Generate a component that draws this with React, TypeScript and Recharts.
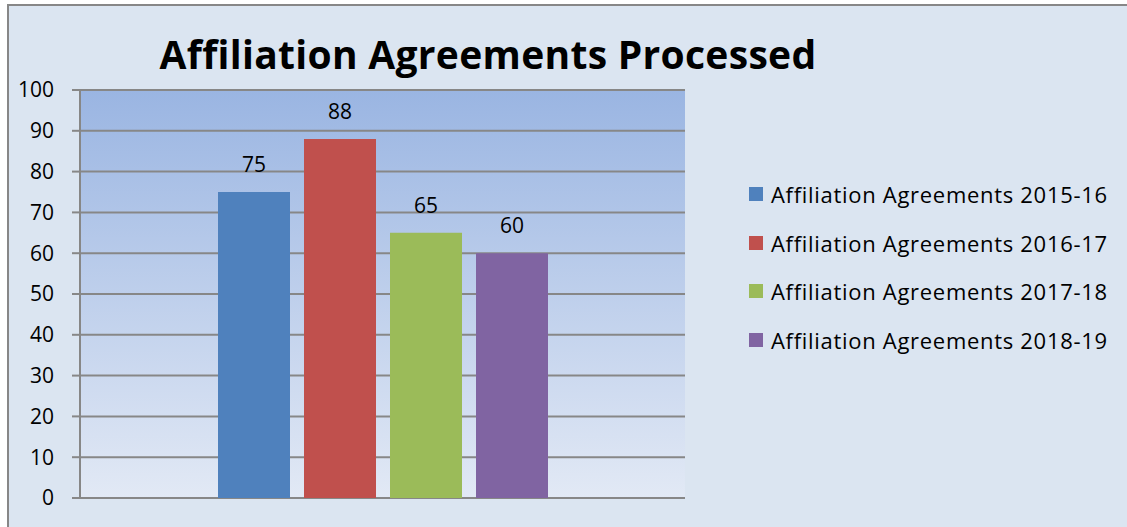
import { Bar, BarChart, CartesianGrid, LabelList, XAxis, YAxis } from 'recharts';

const CATEGORIES = [''];
const SERIES_NAMES = [
  'Affiliation Agreements 2015-16',
  'Affiliation Agreements 2016-17',
  'Affiliation Agreements 2017-18',
  'Affiliation Agreements 2018-19',
];
const SERIES_VALUES = [[75], [88], [65], [60]];
const SERIES_COLORS = ['#4f81bd', '#c0504d', '#9bbb59', '#8064a2'];
const Y_TICKS = [0, 10, 20, 30, 40, 50, 60, 70, 80, 90, 100];

const FONT = '"Open Sans", "Noto Sans", sans-serif';

const data = CATEGORIES.map((name, i) => {
  const row: Record<string, string | number> = { name };
  SERIES_NAMES.forEach((s, j) => {
    row['s' + j] = SERIES_VALUES[j][i];
  });
  return row;
});

export default function App() {
  return (
    <div style={{ position: 'absolute', left: 0, top: 0, width: 1127, height: 527, background: '#fff', overflow: 'hidden', fontFamily: FONT }}>
      <div
        style={{
          position: 'absolute',
          left: 7,
          top: 4,
          width: 1140,
          height: 560,
          background: '#dbe5f1',
          borderLeft: '2px solid #878787',
          borderTop: '2px solid #878787',
        }}
      />
      <div
        style={{
          position: 'absolute',
          left: 0,
          width: 976,
          top: 28,
          textAlign: 'center',
          fontSize: 39,
          fontWeight: 700,
          letterSpacing: 0.3,
          lineHeight: '52px',
          color: '#000',
        }}
      >
        Affiliation Agreements Processed
      </div>
      <div style={{ position: 'absolute', left: 0, top: 0 }}>
        <BarChart
          width={1127}
          height={527}
          data={data}
          margin={{ top: 90, right: 442, bottom: 29, left: 0 }}
          barSize={72}
          barGap={14}
        >
          <defs>
            <linearGradient id="plotGrad" x1="0" y1="0" x2="0" y2="1">
              <stop offset="0%" stopColor="#9ab5e2" />
              <stop offset="100%" stopColor="#e2e9f5" />
            </linearGradient>
          </defs>
          <CartesianGrid vertical={false} stroke="#878787" strokeWidth={2} fill="url(#plotGrad)" fillOpacity={1} />
          <XAxis dataKey="name" hide />
          <YAxis
            width={80}
            domain={[0, 100]}
            ticks={Y_TICKS}
            interval={0}
            stroke="#878787"
            strokeWidth={2}
            tickSize={8}
            tickMargin={18}
            tick={{ fill: '#000', fontSize: 21, fontFamily: FONT }}
          />
          {SERIES_NAMES.map((s, j) => (
            <Bar key={s} dataKey={'s' + j} name={s} fill={SERIES_COLORS[j]} isAnimationActive={false}>
              <LabelList dataKey={'s' + j} position="top" offset={20} fill="#000" fontSize={21} fontFamily={FONT} />
            </Bar>
          ))}
        </BarChart>
      </div>
      <div style={{ position: 'absolute', left: 749, top: 170 }}>
        {SERIES_NAMES.map((s, j) => (
          <div key={s} style={{ display: 'flex', alignItems: 'center', height: 48.6 }}>
            <div style={{ width: 14, height: 14, background: SERIES_COLORS[j], marginRight: 8 }} />
            <span style={{ fontSize: 22, letterSpacing: 0.7, color: '#000', whiteSpace: 'nowrap' }}>{s}</span>
          </div>
        ))}
      </div>
    </div>
  );
}
